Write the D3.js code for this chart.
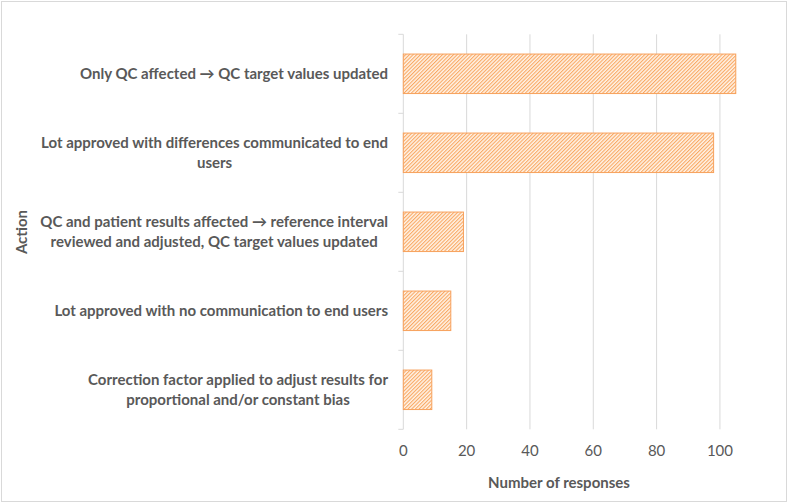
<!DOCTYPE html>
<html>
<head>
<meta charset="utf-8">
<script src="https://cdn.jsdelivr.net/npm/d3@7"></script>
<style>
  body { margin: 0; background: #fff; }
  text { font-family: Lato, "Open Sans", sans-serif; fill: #595959; }
</style>
</head>
<body>
<svg id="chart" width="789" height="504"></svg>
<script>
var width = 789, height = 504;

// data, top to bottom
var actions = [
  ["Only QC affected \u2192 QC target values updated"],
  ["Lot approved with differences communicated to end", "users"],
  ["QC and patient results affected \u2192 reference interval", "reviewed and adjusted, QC target values updated"],
  ["Lot approved with no communication to end users"],
  ["Correction factor applied to adjust results for", "proportional and/or constant bias"]
];
var responses = [105, 98, 19, 15, 9];
var xTicks = [0, 20, 40, 60, 80, 100];

function draw()
{
    var svg = d3.select("svg");

    // chart border
    svg.append("rect")
      .attr("x", 1.5).attr("y", 1.5)
      .attr("width", width - 4).attr("height", height - 4)
      .attr("fill", "#fff").attr("stroke", "#d9d9d9");

    var defs = svg.append("defs");
    var pat = defs.append("pattern")
      .attr("id", "hatch")
      .attr("patternUnits", "userSpaceOnUse")
      .attr("width", 2.6).attr("height", 2.6)
      .attr("patternTransform", "rotate(45)");
    pat.append("rect").attr("width", 2.6).attr("height", 2.6).attr("fill", "#fff3e8");
    pat.append("line")
      .attr("x1", 0).attr("y1", 0).attr("x2", 0).attr("y2", 2.6)
      .attr("stroke", "#f9a862").attr("stroke-width", 2.2);

    var x = d3.scaleLinear().domain([0, 110]).range([403.3, 751.6]),
        y = d3.scaleBand().domain(d3.range(actions.length)).range([34.3, 429.3]).paddingInner(0.5).paddingOuter(0.25);

    // gridlines
    svg.append("g").selectAll("line")
      .data(xTicks.slice(1))
      .enter().append("line")
      .attr("x1", d => x(d)).attr("x2", d => x(d))
      .attr("y1", 34.3).attr("y2", 429.3)
      .attr("stroke", "#d9d9d9").attr("stroke-width", 1);

    // category axis
    var yAxis = svg.append("g").attr("transform", "translate(" + x(0) + ",0)");
    yAxis.append("line")
      .attr("x1", 0).attr("x2", 0).attr("y1", 34.3).attr("y2", 429.3)
      .attr("stroke", "#d9d9d9");
    var step = y.step();
    yAxis.selectAll(".tk")
      .data(d3.range(actions.length + 1))
      .enter().append("line")
      .attr("x1", -5).attr("x2", 0)
      .attr("y1", d => 34.3 + d * step).attr("y2", d => 34.3 + d * step)
      .attr("stroke", "#d9d9d9");

    // bars
    svg.append("g").selectAll("rect")
      .data(responses)
      .enter().append("rect")
      .attr("x", x(0))
      .attr("y", (d, i) => y(i))
      .attr("width", d => x(d) - x(0))
      .attr("height", y.bandwidth())
      .attr("fill", "url(#hatch)")
      .attr("stroke", "#f7a15c").attr("stroke-width", 1);

    // category labels
    var right = 388;
    actions.forEach(function(lines, i) {
      var cy = y(i) + y.bandwidth() / 2;
      var g = svg.append("text")
        .attr("font-size", 15).attr("font-weight", "bold")
        .attr("text-anchor", "middle");
      var ts = lines.map(function(l, j) {
        return g.append("tspan")
          .attr("y", cy + (j - (lines.length - 1) / 2) * 20 + 5)
          .text(l);
      });
      var w = d3.max(ts, t => t.node().getComputedTextLength());
      ts.forEach(t => t.attr("x", right - w / 2));
    });

    // x tick labels
    svg.append("g").selectAll("text")
      .data(xTicks)
      .enter().append("text")
      .attr("x", d => x(d)).attr("y", 456)
      .attr("text-anchor", "middle").attr("font-size", 15)
      .text(d => d);

    svg.append("text")
      .attr("x", 559).attr("y", 488)
      .attr("text-anchor", "middle").attr("font-size", 15).attr("font-weight", "bold")
      .text("Number of responses");

    svg.append("text")
      .attr("transform", "translate(27,232) rotate(-90)")
      .attr("text-anchor", "middle").attr("font-size", 15).attr("font-weight", "bold")
      .text("Action");
}

draw();
</script>
</body>
</html>
